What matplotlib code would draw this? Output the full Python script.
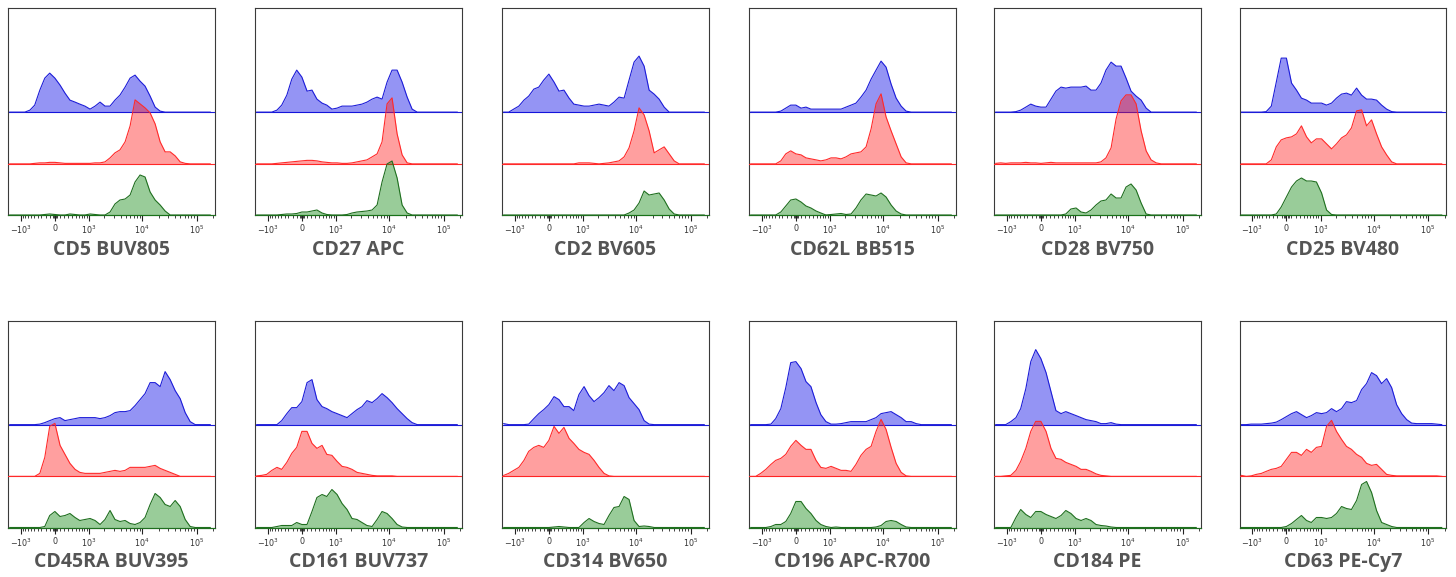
import matplotlib
matplotlib.use('Agg')
import matplotlib.pyplot as plt
from matplotlib.ticker import NullFormatter

# Fluorescence grid (data units) at which the histogram heights were read
X_GRID = [-1650, -1320, -1050, -820, -630, -480, -340, -220, -110, 0,
          110, 220, 340, 480, 630, 820, 1050, 1320, 1650, 2050,
          2550, 3150, 3900, 4850, 6000, 7400, 9150, 11300, 14000, 17300,
          21400, 26400, 32700, 40400, 49900, 61700, 76200, 94200, 116500, 143900,
          177900]

MAJOR_TICKS = [-1000, 0, 1000, 10000, 100000]
MAJOR_LABELS = [r'$-10^3$', '0', r'$10^3$', r'$10^4$', r'$10^5$']
MINOR_TICKS = ([-900, -800, -700, -600, -500, -400, -300, -200, -100, -50, -25,
                25, 50, 100, 200, 300, 400, 500, 600, 700, 800, 900]
               + [2000, 3000, 4000, 5000, 6000, 7000, 8000, 9000]
               + [20000, 30000, 40000, 50000, 60000, 70000, 80000, 90000, 200000])

TITLES = ["CD5 BUV805", "CD27 APC", "CD2 BV605", "CD62L BB515", "CD28 BV750", "CD25 BV480",
          "CD45RA BUV395", "CD161 BUV737", "CD314 BV650", "CD196 APC-R700", "CD184 PE", "CD63 PE-Cy7"]

# ---- histogram counts (blue = top, red = middle, green = bottom) ----
CD5_BLUE = [0,0,0,0,2, 7,22,34,39,34, 27,19,12,10,8, 6,3,6,10,6, 6,12,17,25,34, 37,31,26,16,5, 1,0,0,0,0, 0,0,0,0,0, 0]
CD5_RED = [0,0,0,0,0, 0.5,1,1,1.5,1.5, 1,0.5,0.5,0.5,0.5, 0.5,0.5,1,1,2, 6,11,14,22,38, 64,60,56,51,40, 22,12,12,8,2, 0.5,0,0,0,0, 0]
CD5_GREEN = [0,0,0,0,0, 0,0,0.5,1,0.5, 0,0,1,0.5,0, 0,1,0.5,0,0, 3,11,15,16,20, 33,40,38,23,15, 10,4,0,0,0, 0,0,0,0,0, 0]

CD27_BLUE = [0,0,0,0,2, 7,17,33,42,35, 21,22,13,9,7, 3,4,6,6,6, 7,8,10,13,15, 13,30,42,42,30, 15,3,0,0,0, 0,0,0,0,0, 0]
CD27_RED = [0,0,0,0,0.5, 1,1.5,2,2.5,3, 3.5,3.5,3,2,1.5, 1,1,0.5,0.5,1, 2,3,4,7,10, 22,60,66,30,9, 1,0,0,0,0, 0,0,0,0,0, 0]
CD27_GREEN = [0,0,0,0,0, 0.5,1,1,1.5,3, 3,4,5,2,0.5, 0,0,0,0.5,2, 3,3.5,4,5,10, 33,51,54,37,10, 2,0,0,0,0, 0,0,0,0,0, 0]

CD2_BLUE = [0,0,3,6,12, 16,23,25,32,38, 30,21,22,14,8, 7,6,6,7,8, 7,6,10,15,14, 32,50,56,46,22, 18,13,5,0,0, 0,0,0,0,0, 0]
CD2_RED = [0,0,0,0,0, 0,0,0,0,0, 0,0,0,0,0, 1,1,1,0.5,0, 0.5,1,2,3,7, 16,33,56,49,33, 11,14,17,10,3, 0,0,0,0,0, 0]
CD2_GREEN = [0,0,0,0,0, 0,0,0,0,0, 0,0,0,0,0, 0,0,0,0,0, 0,0,0,0,0, 2,5,12,24,20, 21,22,15,6,1, 0,0,0,0,0, 0]

CD62L_BLUE = [0,0,0,0,0, 0,1,4,7,7, 4,5,3,3,3, 3,3,3,3,5, 7,9,15,22,33, 42,51,45,28,14, 6,1,0,0,0, 0,0,0,0,0, 0]
CD62L_RED = [0,0,0,0,0, 0,3,10,13,10, 9,6,5,4,3, 4,6,6,5,7, 10,11,12,17,35, 60,70,47,33,20, 7,1,0,0,0, 0,0,0,0,0, 0]
CD62L_GREEN = [0,0,0,0,0, 0,3,9,15,16, 13,9,7,4,2, 0,0.5,1,1.5,0.5, 1,7,15,21,20, 19,22,18,10,4, 1,0,0,0,0, 0,0,0,0,0, 0]

CD28_BLUE = [0,0,0,0,0.5, 2,5,8,6,5, 5,13,21,25,24, 25,25,25,26,22, 22,29,42,50,46, 46,34,21,16,12, 4,0,0,0,0, 0,0,0,0,0, 0]
CD28_RED = [0.5,1,0.5,1,1, 1,1.5,1,1,0.5, 1,1.5,1,1,1, 1,1,1,1,1, 1,2,6,16,45, 63,69,69,60,33, 13,4,1,0,0, 0,0,0,0,0, 0]
CD28_GREEN = [0,0,0,0,0, 0,0,0,0,0, 0,0,0,0,1, 6,7,3,2,5, 10,14,15,21,17, 17,28,31,25,12, 1,0,0,0,0, 0,0,0,0,0, 0]

CD25_BLUE = [0,0,0,0,0, 0.5,6,30,54,54, 29,22,14,12,9, 9,9,7,9,14, 18,19,17,24,17, 13,13,12,7,3, 0.5,0,0,0,0, 0,0,0,0,0, 0]
CD25_RED = [0,0,0,0,0, 0,4,17,24,26, 27,30,38,27,21, 25,25,20,15,20, 26,29,36,53,54, 38,44,30,17,9, 2,0,0,0,0, 0,0,0,0,0, 0]
CD25_GREEN = [0,0,0,0,0, 0,0,1,8,18, 28,34,37,34,34, 33,22,5,0.5,0, 0,0,0,0,0, 0,0,0,0,0, 0,0,0,0,0, 0,0,0,0,0, 0]

CD45RA_BLUE = [0,0,0,0,0, 0,0.5,2,4,6, 7,4,5,6,7, 7,7,7,6,7, 9,12,13,13,14, 19,25,31,42,42, 38,53,45,34,26, 12,3,0,0,0, 0]
CD45RA_RED = [0,0,0,0,0, 0,3,19,50,53, 31,22,13,7,4, 3,3,3,3,4, 5,6,5,6,9, 9,9,9,10,11, 8,6,4,2,0, 0,0,0,0,0, 0]
CD45RA_GREEN = [0,0,0,0,0, 0,0,1,12,16, 11,12,14,10,7, 8,9,7,3,8, 17,8,6,7,4, 3,5,10,23,34, 30,23,21,27,21, 8,1,0,0,0, 0]

CD161_BLUE = [0,0,0,0,0, 4,11,17,17,23, 42,45,25,18,16, 13,11,9,7,11, 15,18,24,22,26, 31,27,22,16,11, 6,2,0,0,0, 0,0,0,0,0, 0]
CD161_RED = [0.5,1,2,6,9, 7,14,23,29,45, 45,33,28,31,22, 21,15,10,9,7, 4,3,2,1,0.5, 0.5,0.5,0.5,0,0, 0,0,0,0,0, 0,0,0,0,0, 0]
CD161_GREEN = [0,0,0,0,1, 2,2,2,5,3, 3,16,30,33,31, 38,33,24,18,9, 8,5,2,1,8, 16,14,9,3,0.5, 0,0,0,0,0, 0,0,0,0,0, 0]

CD314_BLUE = [1,0,0,0,0, 0.5,6,11,15,20, 28,25,18,18,14, 30,38,29,23,27, 32,39,34,42,39, 27,21,15,4,0.5, 0,0,0,0,0, 0,0,0,0,0, 0]
CD314_RED = [1,3,6,9,16, 25,29,31,29,36, 50,43,49,38,33, 27,24,22,16,9, 3,0.5,0,0,0, 0,0,0,0,0, 0,0,0,0,0, 0,0,0,0,0, 0]
CD314_GREEN = [0,0,0,0,0, 0,0,0,0,0, 0.5,1,0.5,0,0, 0,5,9,6,4, 3,12,20,21,31, 28,7,1,1.5,1, 0,0,0,0,0, 0,0,0,0,0, 0]

CD196_BLUE = [0,0,0,0,0.5, 6,16,37,62,63, 56,43,38,22,10, 3,0.5,0.5,1,2, 3,3,3,3,5, 7,11,12,13,10, 7,3,3,1,0, 0,0,0,0,0, 0]
CD196_RED = [0,0,3,7,12, 16,18,22,30,36, 31,27,27,16,9, 8,10,8,6,6, 5,12,21,27,30, 45,57,47,29,13, 4,0.5,0,0,0, 0,0,0,0,0, 0]
CD196_GREEN = [0,0,0,0,1, 3,3,6,14,26, 26,19,14,7,3, 1,0,0.5,0,0, 0,0,0,0,0, 0.5,2,6,7,6, 3,0.5,0,0,0, 0,0,0,0,0, 0]

CD184_BLUE = [0,0,0,3,7, 16,36,63,75,66, 52,33,14,11,13, 11,9,7,5,4, 3,1,1,2,0.5, 0,0,0,0,0, 0,0,0,0,0, 0,0,0,0,0, 0]
CD184_RED = [0,0,0.5,1,6, 15,28,45,55,55, 45,28,18,17,14, 12,10,7,7,5, 2.5,1,0.5,0,0, 0,0,0,0,0, 0,0,0,0,0, 0,0,0,0,0, 0]
CD184_GREEN = [0,0,0,0,10, 18,13,10,16,16, 13,11,9,12,17, 14,9,7,9,7, 3,2,1.5,0.5,0, 0,0,0,0,0, 0,0,0,0,0, 0,0,0,0,0, 0]

CD63_BLUE = [0,0,0.5,0.5,0.5, 1,1.5,2.5,5,8, 11,13,10,7,9, 12,11,12,16,13, 16,23,22,24,35, 41,52,49,41,46, 37,20,11,5,1.5, 1,1,1,1,0.5, 0]
CD63_RED = [1,0,0.5,2,3, 5,7,8,10,17, 24,24,21,27,24, 29,30,50,56,45, 37,30,27,22,19, 13,11,12,7,2, 1,0.5,0.5,0.5,0.5, 0.5,0.5,0.5,0.5,0.5, 0]
CD63_GREEN = [0,0,0,0,0, 0,0,0,0,1, 4,8,12,7,5, 10,10,9,10,14, 21,19,18,27,43, 46,35,17,5,3, 1,0,0,0,0, 0,0,0,0,0, 0]

PANELS = [
    (CD5_BLUE, CD5_RED, CD5_GREEN), (CD27_BLUE, CD27_RED, CD27_GREEN),
    (CD2_BLUE, CD2_RED, CD2_GREEN), (CD62L_BLUE, CD62L_RED, CD62L_GREEN),
    (CD28_BLUE, CD28_RED, CD28_GREEN), (CD25_BLUE, CD25_RED, CD25_GREEN),
    (CD45RA_BLUE, CD45RA_RED, CD45RA_GREEN), (CD161_BLUE, CD161_RED, CD161_GREEN),
    (CD314_BLUE, CD314_RED, CD314_GREEN), (CD196_BLUE, CD196_RED, CD196_GREEN),
    (CD184_BLUE, CD184_RED, CD184_GREEN), (CD63_BLUE, CD63_RED, CD63_GREEN),
]

# ---- styling / layout ----
W, H = 1456, 577
COL_LEFT = [8, 255, 502, 749, 994, 1239.5]
ROW_TOP = [8, 320.5]
AX_W, AX_H = 206.5, 207
XLIM = (-1780, 213000)
OFFSETS = [0.497, 0.247, 0.0]
SCALE = 1.0 / 207
LINE_COLORS = ['#1c1cd8', '#ff2a2a', '#1f6f1f']
FILL_COLORS = [(0.0, 0.0, 0.9, 0.42), (1.0, 0.1, 0.1, 0.42), (0.0, 0.5, 0.0, 0.40)]

fig = plt.figure(figsize=(W / 100, H / 100), dpi=100)

for k, (title, curves) in enumerate(zip(TITLES, PANELS)):
    r, c = divmod(k, 6)
    left = COL_LEFT[c] / W
    bottom = 1 - (ROW_TOP[r] + AX_H) / H
    ax = fig.add_axes([left, bottom, AX_W / W, AX_H / H])
    ax.set_xscale('asinh', linear_width=500)
    for j, counts in enumerate(curves):
        off = OFFSETS[j]
        ys = [off + v * SCALE for v in counts]
        ax.axhline(off, color=LINE_COLORS[j], lw=0.8, zorder=2 + j, clip_on=(j != 2))
        ax.fill_between(X_GRID, off, ys, color=FILL_COLORS[j], lw=0, zorder=2 + j)
        ax.plot(X_GRID, ys, color=LINE_COLORS[j], lw=0.8, zorder=2 + j)
    ax.set_xlim(*XLIM)
    ax.set_ylim(0, 1)
    ax.set_yticks([])
    ax.set_xticks(MAJOR_TICKS)
    ax.set_xticklabels(MAJOR_LABELS)
    ax.set_xticks(MINOR_TICKS, minor=True)
    ax.xaxis.set_minor_formatter(NullFormatter())
    ax.tick_params(axis='x', which='major', direction='out', length=4.5, width=0.8,
                   color='#222222', labelsize=5.8, labelcolor='#333333', pad=2)
    ax.tick_params(axis='x', which='minor', direction='out', length=2.5, width=0.6,
                   color='#222222')
    for s in ax.spines.values():
        s.set_color('#3a3a3a')
        s.set_linewidth(0.8)
    ax.text(0.5, -0.169, title, transform=ax.transAxes, ha='center', va='center',
            fontsize=14, fontweight='bold', family='Open Sans', color='#555555')

fig.savefig('out.png', dpi=100)
